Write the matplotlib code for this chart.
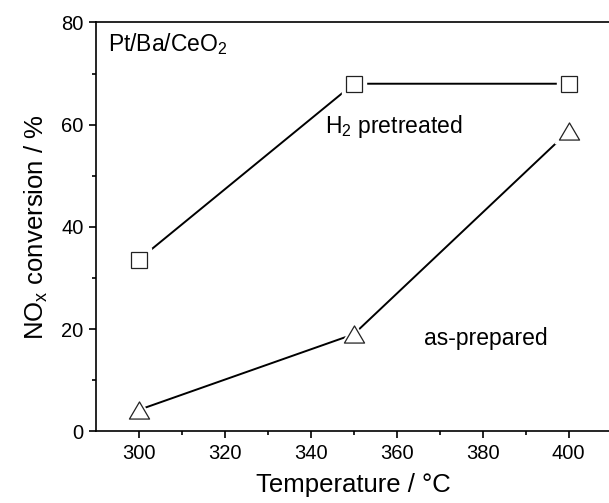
import matplotlib
matplotlib.use("Agg")
import matplotlib.pyplot as plt
from matplotlib.path import Path

plt.rcParams['font.family'] = ['Liberation Sans', 'DejaVu Sans']
plt.rcParams['mathtext.fontset'] = 'custom'
plt.rcParams['mathtext.rm'] = 'Liberation Sans'
plt.rcParams['mathtext.it'] = 'Liberation Sans'

# NOx conversion vs temperature for the two catalyst states
temperature = [300, 350, 400]
h2_pretreated = [33.6, 68.0, 68.0]
as_prepared = [4.2, 19.0, 58.7]

fig = plt.figure(figsize=(6.09, 5.03), dpi=100)
ax = fig.add_axes([0.1576, 0.1425, 0.8467, 0.813])

# open triangle, a bit wider than it is tall
tri = Path([(0, 0.85), (-1, -0.85), (1, -0.85), (0, 0.85)],
           [Path.MOVETO, Path.LINETO, Path.LINETO, Path.CLOSEPOLY])


def series(x, y, marker, size):
    ax.plot(x, y, color='black', lw=1.4, zorder=2)
    # white halo under each marker leaves a gap in the line
    ax.plot(x, y, ls='none', marker=marker, ms=size + 6, mfc='white',
            mec='white', zorder=3)
    ax.plot(x, y, ls='none', marker=marker, ms=size, mfc='white',
            mec='#222222', mew=0.9, zorder=4)


series(temperature, h2_pretreated, 's', 11)
series(temperature, as_prepared, tri, 14.5)

ax.set_xlim(290, 410)
ax.set_ylim(0, 80)
ax.set_xticks([300, 320, 340, 360, 380, 400])
ax.set_xticks(range(310, 410, 20), minor=True)
ax.set_yticks([0, 20, 40, 60, 80])
ax.set_yticks(range(10, 80, 20), minor=True)
ax.tick_params(which='major', length=5, width=1.2, labelsize=14.5,
               direction='out', pad=4)
ax.tick_params(which='minor', length=3, width=1.2, direction='out')
for s in ax.spines.values():
    s.set_linewidth(1.2)

ax.set_xlabel('Temperature / °C', fontsize=18.5, labelpad=7)
ax.set_ylabel('NO$_x$ conversion / %', fontsize=18.5, labelpad=8)

ax.text(292.8, 74.3, 'Pt/Ba/CeO$_2$', fontsize=16.5, va='baseline')
ax.text(343.3, 58.4, 'H$_2$ pretreated', fontsize=16.5, va='baseline')
ax.text(366.3, 16.9, 'as-prepared', fontsize=16.5, va='baseline')

fig.savefig('out.png', dpi=100)
